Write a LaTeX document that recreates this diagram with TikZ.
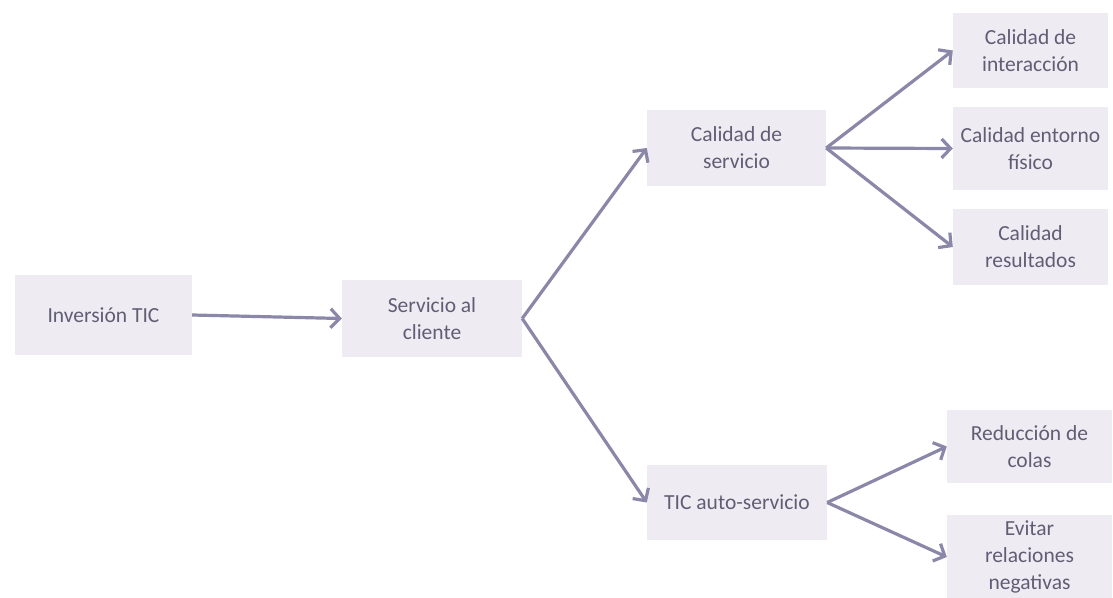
\documentclass[tikz,border=0pt]{standalone}
\usepackage{fontspec}
\setmainfont{Carlito}
\usetikzlibrary{arrows.meta}
\definecolor{boxfill}{HTML}{EEECF2}
\definecolor{txtcol}{HTML}{615D75}
\definecolor{arrcol}{HTML}{8B87A8}
\tikzset{
  box/.style={rectangle, fill=boxfill, draw=none, align=center, text=txtcol,
    font=\fontsize{21.5}{27}\selectfont, inner sep=0pt},
  conn/.style={draw=arrcol, line width=3.2pt,
    -{Straight Barb[length=9pt,width=19pt,line width=3.2pt]}}
}
\begin{document}
\begin{tikzpicture}[x=1pt,y=-1pt]
\useasboundingbox (0,0) rectangle (1113,597);
\node[box, minimum width=177pt, minimum height=80pt] (inv) at (103.5,315) {Inversión TIC};
\node[box, minimum width=180pt, minimum height=77pt] (serv) at (432,318.5) {Servicio al\\cliente};
\node[box, minimum width=179pt, minimum height=76pt] (cs) at (736.5,148) {Calidad de\\servicio};
\node[box, minimum width=180pt, minimum height=75pt] (tic) at (737,502.5) {TIC auto-servicio};
\node[box, minimum width=155pt, minimum height=75pt] (ci) at (1030.5,50.5) {Calidad de\\interacción};
\node[box, minimum width=155pt, minimum height=83pt] (ce) at (1030.5,148.5) {Calidad entorno\\físico};
\node[box, minimum width=155pt, minimum height=76pt] (cr) at (1030.5,247) {Calidad\\resultados};
\node[box, minimum width=165pt, minimum height=73pt] (rc) at (1029.5,446.5) {Reducción de\\colas};
\node[box, minimum width=165pt, minimum height=84pt] (ev) at (1029.5,557) {Evitar\\relaciones\\negativas};
\draw[conn] (inv.east) -- (serv.west);
\draw[conn] (serv.east) -- (cs.west);
\draw[conn] (serv.east) -- (tic.west);
\draw[conn] (cs.east) -- (ci.west);
\draw[conn] (cs.east) -- (ce.west);
\draw[conn] (cs.east) -- (cr.west);
\draw[conn] (tic.east) -- (rc.west);
\draw[conn] (tic.east) -- (ev.west);
\end{tikzpicture}
\end{document}
